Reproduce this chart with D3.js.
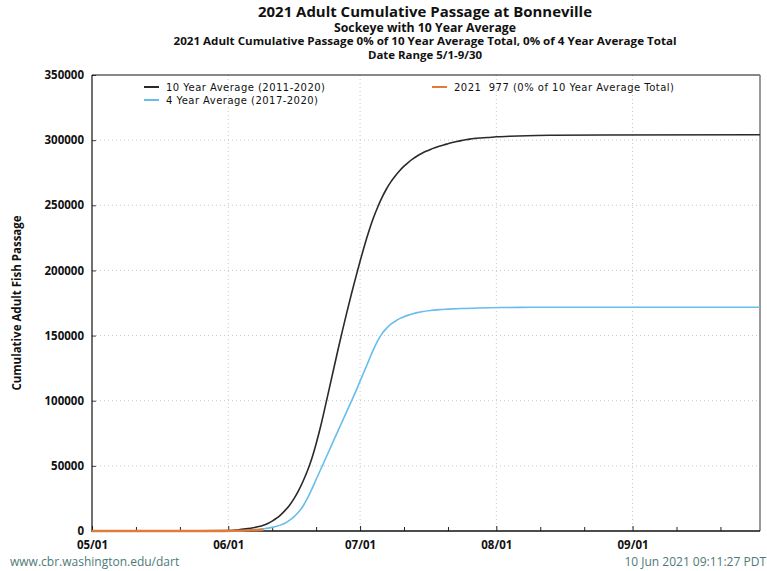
<!DOCTYPE html>
<html><head><meta charset="utf-8">
<script src="https://cdn.jsdelivr.net/npm/d3@7/dist/d3.min.js"></script>
<style>
body{margin:0;background:#fff;}
svg{display:block;}
</style></head>
<body>
<svg id="chart" width="767" height="571"></svg>
<script>
const titleLines = ["2021 Adult Cumulative Passage at Bonneville","Sockeye with 10 Year Average","2021 Adult Cumulative Passage 0% of 10 Year Average Total, 0% of 4 Year Average Total","Date Range 5/1-9/30"];
const yTicks = [0,50000,100000,150000,200000,250000,300000,350000];
const xMajorTicks = ["05/01","06/01","07/01","08/01","09/01"];
const xMinorTicks = ["05/11","05/21","06/11","06/21","07/11","07/21","08/11","08/21","09/11","09/21"];

const avg10Dates = ["05/01","05/15","05/25","06/01","06/03","06/05","06/07","06/08","06/09","06/10","06/11","06/12","06/13","06/14","06/15","06/16","06/17","06/18","06/19","06/20","06/21","06/22","06/23","06/24","06/25","06/26","06/27","06/28","06/29","06/30","07/01","07/02","07/03","07/04","07/05","07/06","07/07","07/08","07/09","07/10","07/11","07/12","07/13","07/14","07/15","07/16","07/17","07/18","07/19","07/20","07/21","07/22","07/23","07/24","07/25","07/26","07/27","07/28","07/30","08/01","08/04","08/08","08/14","08/25","09/30"];
const avg10Values = [0,50,150,300,800,1600,2700,3400,4400,5800,7600,9800,12600,16000,20000,25000,31000,38000,46000,55500,67000,80000,94500,109500,124500,139500,154000,168000,181500,194500,207000,219000,230000,240000,248500,256000,262500,268000,272500,276500,280000,283000,285600,287800,289700,291400,292900,294200,295350,296350,297250,298150,298950,299650,300250,300800,301250,301650,302000,302550,302950,303400,303750,304000,304150,304200];

const avg4Dates = ["05/01","05/20","05/31","06/03","06/05","06/07","06/09","06/11","06/12","06/13","06/14","06/15","06/16","06/17","06/18","06/19","06/20","06/21","06/22","06/23","06/24","06/25","06/26","06/27","06/28","06/29","06/30","07/01","07/02","07/03","07/04","07/05","07/06","07/07","07/08","07/09","07/10","07/11","07/12","07/13","07/14","07/15","07/17","07/19","07/21","07/24","07/28","08/02","08/09","09/30"];
const avg4Values = [0,50,100,300,600,1000,1700,2800,3600,4700,6200,8300,11000,14500,19000,25000,32000,39500,47000,54500,62000,69500,77000,84500,92000,99500,107000,115000,123000,131000,139000,146000,151500,155500,158700,161000,163000,164500,165700,166700,167600,168300,169300,169900,170300,170800,171200,171500,171700,171700];

const y2021Dates = ["05/01","05/10","05/20","05/25","05/31","06/02","06/04","06/06","06/08","06/09"];
const y2021Values = [0,2,10,25,80,150,280,480,760,977];

const legendLabels = ["10 Year Average (2011-2020)","4 Year Average (2017-2020)","2021\u00a0\u00a0977 (0% of 10 Year Average Total)"];
const footerLeft = "www.cbr.washington.edu/dart";
const footerRight = "10 Jun 2021 09:11:27 PDT";

const parse = s => { const [m,d] = s.split("/").map(Number); return new Date(2021, m-1, d); };
const svg = d3.select("#chart");
const M = {l:92, r:760, t:75, b:531};
const x = d3.scaleTime().domain([parse("05/01"), parse("09/30")]).range([M.l, M.r]);
const y = d3.scaleLinear().domain([0,350000]).range([M.b, M.t]);

const boldFont = "'Open Sans', sans-serif";

// titles
const tY = [12, 28, 41.5, 55.5], tS = [14, 11.5, 10.5, 10.5], tW = [334, 182, 503, 114];
titleLines.forEach((t,i)=>{
  svg.append("text").attr("x",425).attr("y",tY[i]).attr("dy","0.35em")
    .attr("text-anchor","middle").attr("font-family",boldFont).attr("font-weight","bold")
    .attr("font-size",tS[i]).attr("textLength",tW[i]).attr("lengthAdjust","spacingAndGlyphs")
    .attr("fill","#111").text(t);
});

// grid
const grid = svg.append("g").attr("stroke","#c8c8c8").attr("stroke-dasharray","1,3").attr("stroke-width",1);
yTicks.slice(1,-1).forEach(v=>{
  grid.append("line").attr("x1",M.l).attr("x2",M.r).attr("y1",y(v)).attr("y2",y(v));
});
xMajorTicks.slice(1).forEach(s=>{
  grid.append("line").attr("x1",x(parse(s))).attr("x2",x(parse(s))).attr("y1",M.t).attr("y2",M.b);
});

// axes
const yAxis = d3.axisLeft(y).tickValues(yTicks).tickSize(-4).tickPadding(8).tickFormat(d3.format("d"));
const gy = svg.append("g").attr("transform",`translate(${M.l},0)`).call(yAxis);
gy.select(".domain").remove();
gy.selectAll("text").attr("font-family",boldFont).attr("font-weight","bold").attr("font-size",11.5).attr("fill","#111");
gy.selectAll("line").attr("stroke","#444");

const xAxis = d3.axisBottom(x).tickValues(xMajorTicks.map(parse)).tickSize(-5).tickPadding(10).tickFormat(d3.timeFormat("%m/%d"));
const gx = svg.append("g").attr("transform",`translate(0,${M.b})`).call(xAxis);
gx.select(".domain").remove();
gx.selectAll("text").attr("font-family",boldFont).attr("font-weight","bold").attr("font-size",11.5).attr("fill","#111");
gx.selectAll("line").attr("stroke","#222");
const gxm = svg.append("g").attr("transform",`translate(0,${M.b})`)
  .call(d3.axisBottom(x).tickValues(xMinorTicks.map(parse)).tickSize(-4).tickFormat(""));
gxm.select(".domain").remove();
gxm.selectAll("line").attr("stroke","#222");

// frame
svg.append("line").attr("x1",M.l).attr("x2",M.r).attr("y1",M.t).attr("y2",M.t).attr("stroke","#111");
svg.append("line").attr("x1",M.r).attr("x2",M.r).attr("y1",M.t).attr("y2",M.b).attr("stroke","#777").attr("stroke-width",1.5);
svg.append("line").attr("x1",M.l).attr("x2",M.l).attr("y1",M.t).attr("y2",M.b+1).attr("stroke","#111").attr("stroke-width",1.2);
svg.append("line").attr("x1",M.l).attr("x2",M.r).attr("y1",M.b).attr("y2",M.b).attr("stroke","#111").attr("stroke-width",1.5);

// y label
svg.append("text").attr("transform",`translate(17,${(M.t+M.b)/2}) rotate(-90)`).attr("text-anchor","middle")
  .attr("dy","0.35em").attr("font-family",boldFont).attr("font-weight","bold").attr("font-size",11.5).attr("fill","#111")
  .text("Cumulative Adult Fish Passage");

// lines
const line = d3.line().x(d=>x(d[0])).y(d=>y(d[1])).curve(d3.curveMonotoneX);
const series = [
  {dates:avg4Dates, vals:avg4Values, color:"#68bdec", w:1.6},
  {dates:avg10Dates, vals:avg10Values, color:"#2a2a2a", w:1.6},
  {dates:y2021Dates, vals:y2021Values, color:"#e07b39", w:2.5},
];
series.forEach(s=>{
  svg.append("path").datum(s.dates.map((d,i)=>[parse(d), s.vals[i]]))
    .attr("d",line).attr("fill","none").attr("stroke",s.color).attr("stroke-width",s.w);
});

// legend
const legend = [
  {x:144, y:87, color:"#2a2a2a", label:legendLabels[0], w:159},
  {x:144, y:100, color:"#68bdec", label:legendLabels[1], w:152},
  {x:432, y:87, color:"#e07b39", label:legendLabels[2], w:220},
];
legend.forEach(l=>{
  svg.append("line").attr("x1",l.x).attr("x2",l.x+15).attr("y1",l.y).attr("y2",l.y).attr("stroke",l.color).attr("stroke-width",2);
  svg.append("text").attr("x",l.x+22).attr("y",l.y).attr("dy","0.35em").attr("font-family","'DejaVu Sans', sans-serif")
    .attr("font-size",10).attr("fill","#111").attr("textLength",l.w).attr("lengthAdjust","spacing").text(l.label);
});

// footer
svg.append("text").attr("x",10).attr("y",562).attr("dy","0.35em").attr("font-family","'Open Sans', sans-serif")
  .attr("font-size",12).attr("fill","#4d7a78").text(footerLeft);
svg.append("text").attr("x",766).attr("y",562).attr("dy","0.35em").attr("text-anchor","end").attr("font-family","'Open Sans', sans-serif")
  .attr("font-size",12).attr("fill","#4d7a78").text(footerRight);
</script>
</body></html>
